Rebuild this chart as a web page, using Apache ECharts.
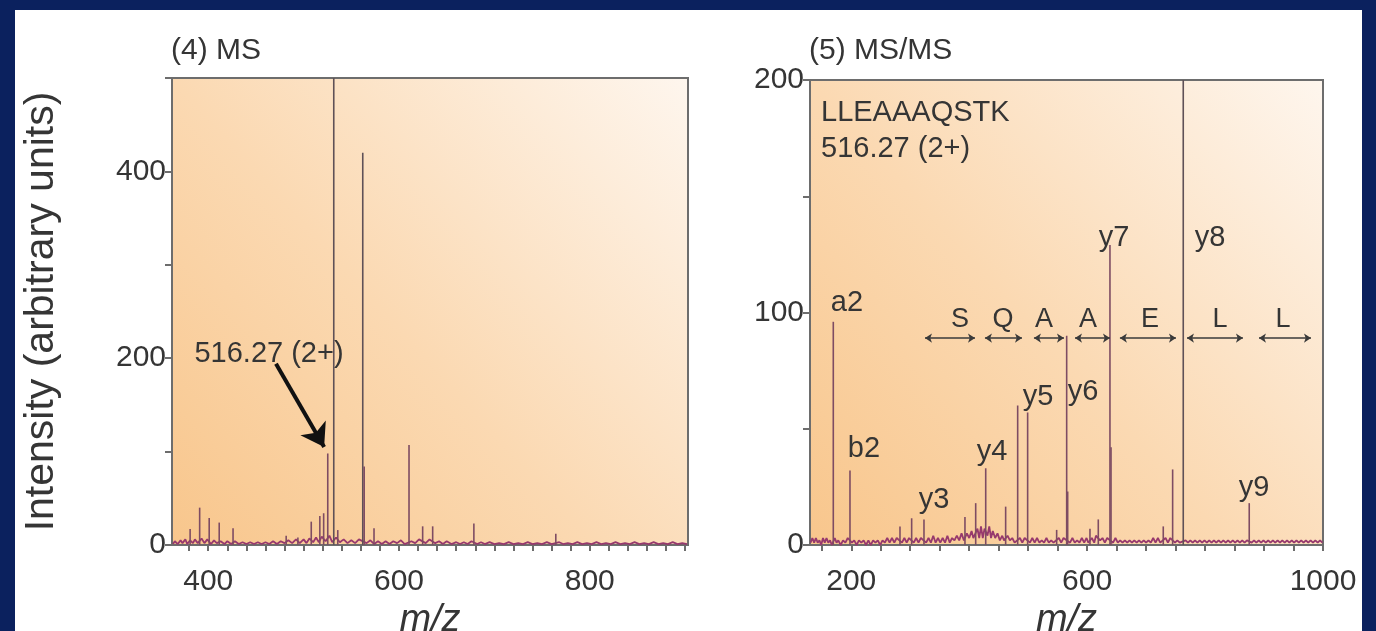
<!DOCTYPE html>
<html><head><meta charset="utf-8">
<script src="https://cdn.jsdelivr.net/npm/echarts@6/dist/echarts.min.js"></script>
<style>
html,body{margin:0;padding:0;background:#0b215e;width:1376px;height:631px;overflow:hidden}
#panel{position:absolute;left:15px;top:10px;width:1347px;height:621px;background:#fff}
#chart{position:absolute;left:0;top:0;width:1376px;height:631px}
</style></head><body><div id="panel"></div><div id="chart"></div>
<script>
// ---------- (4) MS panel ----------
const msTitle = '(4) MS';
const msXTicks = [380,400,420,440,460,480,500,520,540,560,580,600,620,640,660,680,700,720,740,760,780,800,820,840,860,880,900];
const msXLabels = [400,600,800];
const msYTicks = [0,100,200,300,400,500];
const msYLabels = [0,200,400];
// [m/z, intensity]
const msPeaks = [[381,17],[391,40],[401,29],[411.5,24],[426,18],[481.7,10],[494,8],[508,25],[517,31],[521,34],[525.3,98],[531.6,500],[535.8,16],[562,420],[563.5,84],[573.8,18],[610.5,107],[624.8,20],[635.3,20],[678.5,23],[764.4,12]];
const msNoise = [[363,1],[365,4],[368,1],[371,5],[373,2],[376,6],[378,1],[381,5],[384,2],[386,6],[389,2],[393,7],[396,2],[399,6],[403,1],[406,5],[409,2],[413,4],[417,1],[420,4],[424,1],[428,4],[432,1],[436,3],[440,1],[444,3],[448,1],[452,3],[456,1],[460,3],[464,1],[468,4],[472,1],[476,4],[480,2],[484,5],[488,2],[492,6],[496,2],[500,6],[503,2],[506,7],[510,3],[513,8],[516,3],[519,9],[523,4],[527,10],[530,3],[534,8],[538,3],[542,6],[546,2],[550,5],[554,2],[558,6],[566,2],[570,5],[574,1],[578,4],[582,1],[586,4],[590,1],[594,4],[598,2],[602,5],[606,1],[613,4],[617,2],[621,6],[628,2],[632,6],[638,2],[642,4],[646,1],[650,4],[655,1],[660,3],[664,1],[668,3],[672,1],[676,4],[682,1],[686,3],[690,1],[695,3],[700,1],[705,2],[710,1],[715,3],[720,1],[725,2],[730,1],[735,3],[740,1],[745,2],[750,1],[755,3],[760,1],[768,3],[772,1],[777,2],[782,1],[787,3],[792,1],[797,2],[802,1],[807,3],[812,1],[817,2],[822,1],[827,3],[832,1],[837,2],[842,1],[847,3],[852,1],[857,2],[862,1],[867,3],[872,1],[877,2],[882,1],[887,3],[892,1],[897,2],[902,1]];
const msPrecursorText = '516.27 (2+)';
const msPrecursorTextAt = [385, 205];
const msArrow = [[471, 194], [521.5, 105]];

// ---------- (5) MS/MS panel ----------
const msmsTitle = '(5) MS/MS';
const msmsPeptide = 'LLEAAAQSTK';
const msmsPrecursor = '516.27 (2+)';
const msmsXTicks = [150,200,250,300,350,400,450,500,550,600,650,700,750,800,850,900,950,1000];
const msmsXLabels = [200,600,1000];
const msmsYTicks = [0,50,100,150,200];
const msmsYLabels = [0,100,200];
const msmsPeaks = [[169.5,96],[197.8,32],[282.6,8],[302.4,11.5],[323.3,11],[392.8,12],[411,18],[428,33],[461.8,16.5],[482.2,60],[499.1,57],[548.3,6.5],[565.3,90],[567,23],[604.8,7],[618.9,11],[638.7,129],[640.5,42],[729.1,8],[745,32.5],[763,200],[874.9,18]];
const msmsNoise = [[131,1],[134,3],[137,1],[140,3],[143,1],[146,2],[149,0],[152,3],[155,1],[158,3],[161,1],[164,2],[167,0],[172,3],[175,1],[178,2],[182,0],[186,2],[190,1],[194,3],[201,1],[205,2],[209,0],[213,2],[217,1],[221,2],[225,0],[229,2],[233,0],[237,2],[241,1],[245,2],[249,0],[253,2],[257,1],[261,3],[265,1],[269,3],[273,1],[277,3],[286,1],[290,3],[294,1],[298,3],[306,1],[310,3],[314,1],[318,3],[327,1],[331,3],[335,1],[339,4],[343,1],[347,3],[351,1],[355,3],[359,1],[363,4],[367,1],[371,3],[375,2],[379,4],[383,2],[387,5],[391,2],[396,5],[400,3],[404,6],[407,3],[414,7],[417,3],[420,8],[423,3],[426,7],[431,4],[434,8],[437,3],[440,6],[444,3],[448,5],[452,2],[456,4],[459,2],[465,4],[469,2],[473,3],[477,1],[486,3],[490,1],[494,3],[503,1],[507,3],[511,1],[515,3],[519,1],[523,2],[527,1],[531,3],[535,1],[539,2],[543,1],[552,3],[556,1],[560,3],[571,1],[575,3],[579,1],[583,2],[587,1],[591,3],[595,1],[599,3],[602,1],[608,3],[612,1],[615,4],[622,2],[626,3],[630,1],[634,3],[644,1],[648,3],[652,1],[656,2],[660,1],[664,2],[668,1],[672,2],[676,1],[680,2],[684,1],[688,2],[692,1],[696,2],[700,1],[704,2],[708,1],[712,3],[716,1],[720,3],[724,1],[733,3],[737,1],[741,3],[749,1],[753,2],[757,1],[767,2],[771,1],[775,2],[779,1],[783,2],[787,1],[791,2],[795,1],[799,2],[803,1],[807,2],[811,1],[815,2],[819,1],[823,2],[827,1],[831,2],[835,1],[839,2],[843,1],[847,2],[851,1],[855,2],[859,1],[863,2],[867,1],[871,2],[879,1],[883,2],[887,1],[891,2],[895,1],[899,2],[903,1],[907,2],[911,1],[915,2],[919,1],[923,2],[927,1],[931,2],[935,1],[939,2],[943,1],[947,2],[951,1],[955,2],[959,1],[963,2],[967,1],[971,2],[975,1],[979,2],[983,1],[987,2],[991,1],[995,2],[999,1]];
// ion labels: name, m/z, intensity (label centre)
const ionNames = ['a2','b2','y3','y4','y5','y6','y7','y8','y9'];
const ionLabelMz = [192.7,221.4,340.2,438.6,516.6,592.9,645.5,808.3,882.9];
const ionLabelY  = [104,41.3,19.4,40,63.7,65.8,132,132,24.5];
// sequence ladder
const ladderSegments = [[325,409.8],[426.7,489.5],[509.8,560.7],[579.4,638.7],[655.6,750.6],[769.3,864.2],[891.4,979.6]];
const ladderLevel = 89;
const ladderLetters = ['S','Q','A','A','E','L','L'];
const ladderLetterMz = [384.3,457.3,526.8,601.5,706.6,825.4,932.2];
const ladderLetterY = 97;

const yAxisTitle = 'Intensity (arbitrary units)';
const xAxisTitle = 'm/z';

// ---------- styling ----------
const FONT = '"Liberation Sans", Arial, Helvetica, sans-serif';
const TXT = '#353535';
const AX = '#6d6d6d';
function bg(){
  return new echarts.graphic.LinearGradient(0,1,1,0,[
    {offset:0,color:'#f8c68c'},{offset:0.45,color:'#fbd9b2'},{offset:1,color:'#fef6ee'}]);
}
function stick(color){
  return function(params, api){
    const x = api.value(0), h = api.value(1);
    const a = api.coord([x,0]), b = api.coord([x,h]);
    return {type:'line', shape:{x1:a[0],y1:a[1],x2:b[0],y2:b[1]},
      style:{stroke: h>=200 ? '#5f5157' : color, lineWidth:1.6}};
  };
}
function xAxis(grid,min,max,ticks,labels){
  return {gridIndex:grid,type:'value',min:min,max:max,
    axisLine:{show:true,onZero:false,lineStyle:{color:AX,width:2}},
    axisTick:{show:true,customValues:ticks,length:6,lineStyle:{color:AX,width:2}},
    axisLabel:{customValues:labels,fontSize:30,color:TXT,fontFamily:FONT,margin:22,formatter:v=>String(v)},
    splitLine:{show:false},
    name:xAxisTitle,nameLocation:'middle',nameGap:51,
    nameTextStyle:{fontStyle:'italic',fontSize:38,color:TXT,fontFamily:FONT}};
}
function yAxis(grid,max,ticks,labels,withName){
  const o = {gridIndex:grid,type:'value',min:0,max:max,
    axisLine:{show:true,onZero:false,lineStyle:{color:AX,width:2}},
    axisTick:{show:true,customValues:ticks,length:7,lineStyle:{color:AX,width:2}},
    axisLabel:{customValues:labels,fontSize:30,color:TXT,fontFamily:FONT,margin:6,formatter:v=>String(v)},
    splitLine:{show:false}};
  if(withName){
    o.name = yAxisTitle; o.nameLocation='middle'; o.nameGap=110; o.nameRotate=90;
    o.nameTextStyle = {fontSize:41,color:TXT,fontFamily:FONT};
  }
  return o;
}
const chart = echarts.init(document.getElementById('chart'), null, {renderer:'canvas'});
const lblItem = {color:'rgba(0,0,0,0)',opacity:1};
chart.setOption({
  animation:false,
  backgroundColor:'transparent',
  title:[
    {text:msTitle,left:166,top:31,textStyle:{fontSize:30,fontWeight:'normal',color:TXT,fontFamily:FONT}},
    {text:msmsTitle,left:804,top:31,textStyle:{fontSize:30,fontWeight:'normal',color:TXT,fontFamily:FONT}},
    {text:msmsPeptide+'\n'+msmsPrecursor,left:816,top:90,textStyle:{fontSize:29,fontWeight:'normal',color:TXT,fontFamily:FONT,lineHeight:36}}
  ],
  grid:[
    {left:172,top:78,width:516,height:467,show:true,backgroundColor:bg(),borderColor:AX,borderWidth:2,containLabel:false,outerBoundsMode:'none'},
    {left:810,top:80,width:513,height:465,show:true,backgroundColor:bg(),borderColor:AX,borderWidth:2,containLabel:false,outerBoundsMode:'none'}
  ],
  xAxis:[xAxis(0,362,903,msXTicks,msXLabels), xAxis(1,130,1000,msmsXTicks,msmsXLabels)],
  yAxis:[yAxis(0,500,msYTicks,msYLabels,true), yAxis(1,200,msmsYTicks,msmsYLabels,false)],
  series:[
    {type:'line',xAxisIndex:0,yAxisIndex:0,data:msNoise,showSymbol:false,silent:true,
      lineStyle:{color:'#97396d',width:1.8},z:3},
    {type:'custom',xAxisIndex:0,yAxisIndex:0,coordinateSystem:'cartesian2d',clip:true,
      renderItem:stick('#7e4c63'),data:msPeaks,encode:{x:0,y:1},z:4},
    {type:'line',xAxisIndex:1,yAxisIndex:1,data:msmsNoise,showSymbol:false,silent:true,
      lineStyle:{color:'#97396d',width:1.8},z:3},
    {type:'custom',xAxisIndex:1,yAxisIndex:1,coordinateSystem:'cartesian2d',clip:true,
      renderItem:stick('#7e4c63'),data:msmsPeaks,encode:{x:0,y:1},z:4},
    {type:'scatter',xAxisIndex:1,yAxisIndex:1,symbolSize:1,itemStyle:lblItem,
      data:ionNames.map((n,i)=>({name:n,value:[ionLabelMz[i],ionLabelY[i]]})),
      label:{show:true,position:'inside',formatter:'{b}',fontSize:29,color:TXT,fontFamily:FONT},z:6},
    {type:'scatter',xAxisIndex:1,yAxisIndex:1,symbolSize:1,itemStyle:lblItem,
      data:ladderLetters.map((n,i)=>({name:n,value:[ladderLetterMz[i],ladderLetterY]})),
      label:{show:true,position:'inside',formatter:'{b}',fontSize:27,color:TXT,fontFamily:FONT},z:6},
    {type:'lines',coordinateSystem:'cartesian2d',xAxisIndex:1,yAxisIndex:1,
      symbol:['arrow','arrow'],symbolSize:7,
      lineStyle:{color:'#3a3a3a',width:1.6,opacity:1},
      data:ladderSegments.map(s=>({coords:[[s[0],ladderLevel],[s[1],ladderLevel]]})),z:5},
    {type:'scatter',xAxisIndex:0,yAxisIndex:0,symbolSize:1,itemStyle:lblItem,
      data:[{name:msPrecursorText,value:msPrecursorTextAt}],
      label:{show:true,position:'right',distance:0,formatter:'{b}',fontSize:29,color:TXT,fontFamily:FONT},z:6},
    {type:'lines',coordinateSystem:'cartesian2d',xAxisIndex:0,yAxisIndex:0,
      symbol:['none','arrow'],symbolSize:[16,22],
      lineStyle:{color:'#111',width:4,opacity:1},
      data:[{coords:msArrow}],z:7}
  ]
});
</script></body></html>
